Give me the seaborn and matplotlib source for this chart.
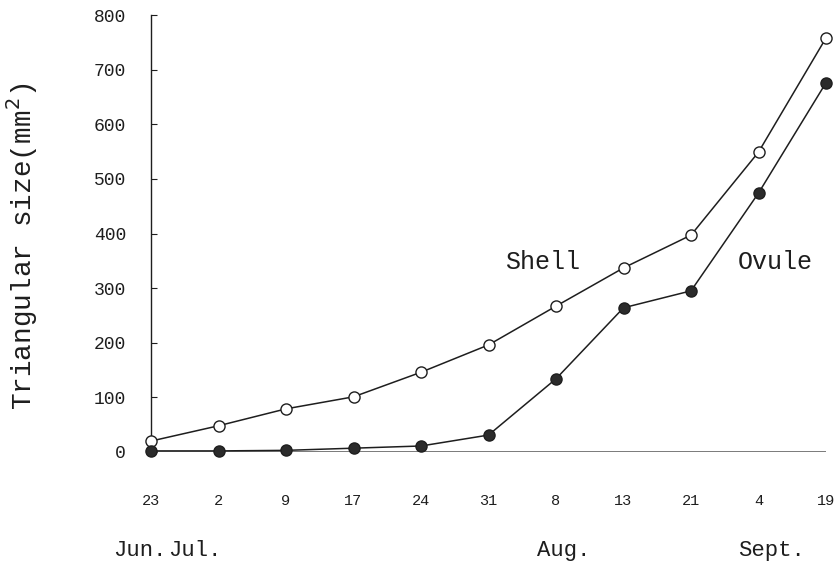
import numpy as np
import pandas as pd
import matplotlib
matplotlib.use("Agg")
import matplotlib.pyplot as plt
import seaborn as sns

# Data
days = ["23", "2", "9", "17", "24", "31", "8", "13", "21", "4", "19"]
shell = [20, 48, 79, 101, 146, 196, 267, 337, 397, 549, 758]
ovule = [2, 2, 3, 7, 11, 31, 134, 264, 295, 474, 676]
months = ["Jun.", "Jul.", "Aug.", "Sept."]
y_ticks = [0, 100, 200, 300, 400, 500, 600, 700, 800]

# layout only: where month names sit along the date axis
month_pos = [-0.16, 0.65, 6.12, 9.2]

sns.set_style("white")
plt.rcParams['font.family'] = ['Liberation Mono', 'DejaVu Sans Mono']

df = pd.DataFrame({"pos": np.arange(len(days)), "Shell": shell, "Ovule": ovule})

fig = plt.figure(figsize=(8.39, 5.68), dpi=100)
ax = fig.add_axes([151 / 839, (568 - 452) / 568, (826 - 151) / 839, (452 - 15) / 568])

ink = "#1e1e1e"
ax.axhline(0, color="#6f6f6f", lw=1.3, zorder=1)

sns.lineplot(data=df, x="pos", y="Shell", ax=ax, color=ink, lw=1.1,
             marker="o", markersize=8, markerfacecolor="white",
             markeredgecolor=ink, markeredgewidth=1.0, clip_on=False, zorder=3)
sns.lineplot(data=df, x="pos", y="Ovule", ax=ax, color=ink, lw=1.1,
             marker="o", markersize=8, markerfacecolor="#2b2b2b",
             markeredgecolor=ink, markeredgewidth=1.0, clip_on=False, zorder=3)

ax.set_xlim(0, len(days) - 1)
ax.set_ylim(0, 800)

ax.set_yticks(y_ticks)
ax.set_yticklabels([str(v) for v in y_ticks], fontsize=13, color=ink)
ax.tick_params(axis="y", direction="in", length=4, width=0.8, color=ink, pad=18, left=True)

ax.set_xticks(df["pos"])
ax.set_xticklabels(days, fontsize=11, color=ink)
ax.tick_params(axis="x", length=0, pad=30)

ax.set_xlabel("")
ax.set_ylabel("Triangular size(mm$^2$)", fontsize=20, color=ink)
ax.yaxis.set_label_coords(-0.165, 0.47)

for side in ["top", "right", "bottom"]:
    ax.spines[side].set_visible(False)
ax.spines["left"].set_color(ink)
ax.spines["left"].set_linewidth(1.0)

for name, xp in zip(months, month_pos):
    ax.text(xp, -0.225, name, transform=ax.get_xaxis_transform(),
            ha="center", va="center", fontsize=16, color=ink)

ax.text(5.8, 348, "Shell", ha="center", va="center", fontsize=18, color=ink)
ax.text(9.25, 348, "Ovule", ha="center", va="center", fontsize=18, color=ink)

fig.savefig("out.png", dpi=100, facecolor="white")
